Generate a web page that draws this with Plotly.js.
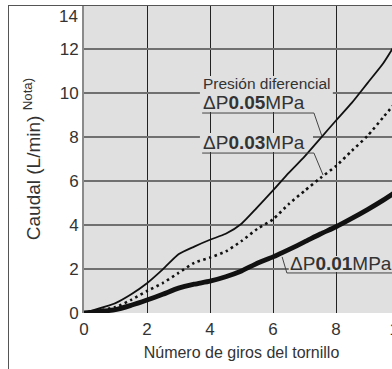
<!DOCTYPE html>
<html>
<head>
<meta charset="utf-8">
<script src="https://cdn.plot.ly/plotly-3.0.1.min.js"></script>
<style>
html,body{margin:0;padding:0;overflow:hidden;background:#fff;width:392px;height:369px;}
#chart{position:absolute;left:0;top:0;}
#frame{position:absolute;left:8px;top:5px;width:600px;height:600px;border-left:1px solid #555;border-top:1px solid #555;pointer-events:none;}
</style>
</head>
<body>
<div id="chart"></div>
<div id="frame"></div>
<script>
// Number of screw turns
const turns = [0, 1, 1.5, 2, 2.5, 3, 3.5, 4, 4.5, 5, 5.5, 6, 6.5, 7, 7.5, 8, 8.5, 9, 9.5, 10];
// Flow rate (L/min) by differential pressure
const flow005 = [0, 0.45, 0.85, 1.35, 1.98, 2.67, 3.02, 3.33, 3.6, 4.06, 4.8, 5.57, 6.37, 7.11, 7.93, 8.75, 9.55, 10.45, 11.35, 12.5];
const flow003 = [0, 0.27, 0.6, 1.0, 1.36, 1.82, 2.28, 2.52, 2.8, 3.27, 3.82, 4.26, 4.95, 5.55, 6.13, 6.68, 7.37, 8.05, 8.9, 9.75];
const flow001 = [0, 0.15, 0.35, 0.59, 0.85, 1.13, 1.31, 1.45, 1.65, 1.91, 2.26, 2.55, 2.88, 3.23, 3.59, 3.92, 4.3, 4.7, 5.13, 5.6];
const yTicks = [0, 2, 4, 6, 8, 10, 12];
const xTicks = [0, 2, 4, 6, 8, 10];
const labelTop = 'Presión diferencial';
const label005 = 'ΔP<b>0.05</b>MPa';
const label003 = 'ΔP<b>0.03</b>MPa';
const label001 = 'ΔP<b>0.01</b>MPa';

const bg = '#e0e0e0';
const F = 'Arial, "Liberation Sans", Helvetica, sans-serif';
const TC = '#333';

const traces = [
  {x: turns, y: flow005, mode: 'lines', line: {color: '#111', width: 1.8, shape: 'spline', smoothing: 0.6}, hoverinfo: 'skip'},
  {x: turns, y: flow003, mode: 'lines', line: {color: '#111', width: 2.6, dash: '2.6px,3.4px', shape: 'spline', smoothing: 0.6}, hoverinfo: 'skip'},
  {x: turns, y: flow001, mode: 'lines', line: {color: '#111', width: 4.8, shape: 'spline', smoothing: 0.6}, hoverinfo: 'skip'}
];

const layout = {
  width: 420, height: 369,
  margin: {l: 84, r: 21, t: 5, b: 56},
  paper_bgcolor: '#fff',
  plot_bgcolor: bg,
  showlegend: false,
  font: {family: F, color: TC},
  xaxis: {
    range: [0, 10], tickvals: xTicks, ticks: '', showgrid: true,
    gridcolor: '#222', gridwidth: 1, zeroline: false, showline: false,
    ticklabelstandoff: 4,
    tickfont: {size: 17, family: F, color: TC},
    title: {text: 'Número de giros del tornillo', font: {size: 16, family: F, color: TC}, standoff: 8}
  },
  yaxis: {
    range: [0, 14], tickvals: yTicks, ticks: '', showgrid: true,
    gridcolor: '#707070', gridwidth: 2, zeroline: false,
    showline: true, linecolor: '#8a8a8a', linewidth: 2,
    tickfont: {size: 17, family: F, color: TC},
    title: {text: 'Caudal (L/min) <sup>Nota)</sup>', font: {size: 19, family: F, color: TC}, standoff: 14}
  },
  shapes: [
    {type: 'rect', layer: 'between', xref: 'x', yref: 'y', x0: 3.68, x1: 7.9, y0: 9.14, y1: 10.77, fillcolor: bg, line: {width: 0}},
    {type: 'rect', layer: 'between', xref: 'x', yref: 'y', x0: 3.68, x1: 7.27, y0: 7.32, y1: 8.18, fillcolor: bg, line: {width: 0}},
    {type: 'rect', layer: 'between', xref: 'x', yref: 'y', x0: 6.5, x1: 10.2, y0: 1.86, y1: 2.59, fillcolor: bg, line: {width: 0}},
    {type: 'path', layer: 'above', xref: 'x', yref: 'y', path: 'M3.75,9.09 L7.3,9.09 L7.55,8.05', line: {color: '#444', width: 1}},
    {type: 'path', layer: 'above', xref: 'x', yref: 'y', path: 'M3.75,7.27 L7.3,7.27 L7.59,6.27', line: {color: '#444', width: 1}},
    {type: 'path', layer: 'above', xref: 'x', yref: 'y', path: 'M6.29,2.55 L6.44,1.82 L10.5,1.82', line: {color: '#444', width: 1}}
  ],
  annotations: [
    {x: 3.72, y: 10.45, xref: 'x', yref: 'y', xanchor: 'left', yanchor: 'middle', showarrow: false, text: labelTop, font: {size: 15.5, family: F, color: TC}},
    {x: 3.7, y: 9.55, xref: 'x', yref: 'y', xanchor: 'left', yanchor: 'middle', showarrow: false, text: label005, font: {size: 19, family: F, color: TC}},
    {x: 3.7, y: 7.73, xref: 'x', yref: 'y', xanchor: 'left', yanchor: 'middle', showarrow: false, text: label003, font: {size: 19, family: F, color: TC}},
    {x: 6.48, y: 2.23, xref: 'x', yref: 'y', xanchor: 'left', yanchor: 'middle', showarrow: false, text: label001, font: {size: 19, family: F, color: TC}},
    {x: 0, y: 14, xref: 'paper', yref: 'y', xanchor: 'right', yanchor: 'middle', xshift: -4, yshift: -11, showarrow: false, text: '14', font: {size: 17, family: F, color: TC}}
  ]
};

Plotly.newPlot('chart', traces, layout, {staticPlot: true, displayModeBar: false});
</script>
</body>
</html>
